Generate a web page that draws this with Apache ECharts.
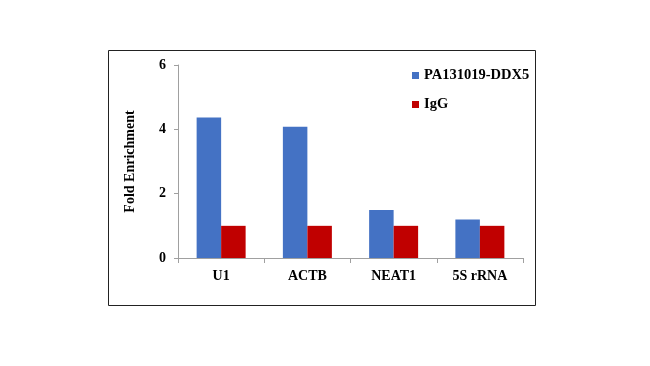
<!DOCTYPE html>
<html>
<head>
<meta charset="utf-8">
<script src="https://cdn.jsdelivr.net/npm/echarts@6/dist/echarts.min.js"></script>
<style>html,body{margin:0;padding:0;background:#fff;}#c{width:650px;height:366px;}</style>
</head>
<body>
<div id="c"></div>
<script>
var categories = ['U1', 'ACTB', 'NEAT1', '5S rRNA'];
var ddx5 = [4.37, 4.08, 1.49, 1.2];
var igg = [1.0, 1.0, 1.0, 1.0];
var seriesNames = ['PA131019-DDX5', 'IgG'];

var chart = echarts.init(document.getElementById('c'));
var serif = '"Liberation Serif", "Times New Roman", serif';
chart.setOption({
  animation: false,
  backgroundColor: '#fff',
  graphic: [{
    type: 'rect', shape: {x: 108.5, y: 50.5, width: 427, height: 255},
    style: {fill: 'none', stroke: '#222', lineWidth: 1}, silent: true
  }],
  legend: {
    orient: 'vertical', left: 407, top: 63, itemGap: 14,
    itemWidth: 7, itemHeight: 7, icon: 'rect',
    textStyle: {fontFamily: serif, fontWeight: 'bold', fontSize: 14.5, color: '#000'},
    data: seriesNames
  },
  grid: {left: 178, right: 127, top: 65, bottom: 108},
  xAxis: {
    type: 'category', data: categories,
    axisLine: {lineStyle: {color: '#a0a0a0'}},
    axisTick: {show: true, length: 5, lineStyle: {color: '#a0a0a0'}},
    axisLabel: {fontFamily: serif, fontWeight: 'bold', fontSize: 14, color: '#000', margin: 11}
  },
  yAxis: {
    type: 'value', min: 0, max: 6, interval: 2,
    name: 'Fold Enrichment', nameLocation: 'middle', nameGap: 41, nameRotate: 90,
    nameTextStyle: {fontFamily: serif, fontWeight: 'bold', fontSize: 14, color: '#000'},
    splitLine: {show: false},
    axisLine: {show: true, lineStyle: {color: '#a0a0a0'}},
    axisTick: {show: true, length: 4, lineStyle: {color: '#a0a0a0'}},
    axisLabel: {fontFamily: serif, fontWeight: 'bold', fontSize: 14, color: '#000', margin: 12}
  },
  series: [
    {name: seriesNames[0], type: 'bar', data: ddx5, barWidth: 24.5, barGap: '0%', itemStyle: {color: '#4472C4'}},
    {name: seriesNames[1], type: 'bar', data: igg, barWidth: 24.5, itemStyle: {color: '#C00000'}}
  ]
});
</script>
</body>
</html>
